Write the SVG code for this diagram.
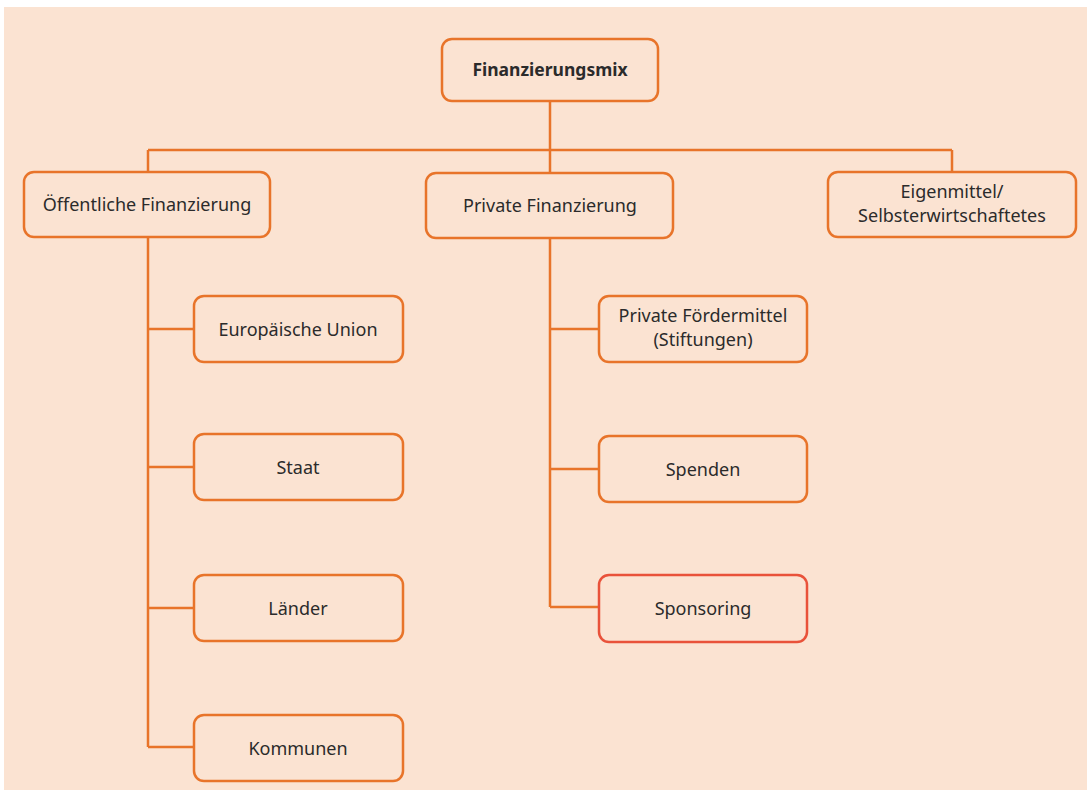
<svg xmlns="http://www.w3.org/2000/svg" width="1087" height="790" viewBox="0 0 1087 790">
<style>
.n{fill:#fbe3d2;stroke:#e8742a;stroke-width:2.5}
.r{fill:#fbe3d2;stroke:#e9523a;stroke-width:2.5}
.t{font-family:"Noto Sans","Open Sans",sans-serif;font-size:18px;fill:#2b2b2b;text-anchor:middle}
.b{font-weight:bold;font-size:17.5px}
.c{fill:none;stroke:#e8742a;stroke-width:2.5}
</style>
<rect x="4" y="7" width="1083" height="783" fill="#fbe3d2"/>
<g id="connectors">
<path class="c" d="M550 101V150M148 150H952M148 150V172M550 150V173M952 150V172"/>
<path class="c" d="M148 237V747M148 329H194M148 467H194M148 608H194M148 747H194"/>
<path class="c" d="M550 238V607M550 329H599M550 469H599M550 607H599"/>
</g>
<g id="finanzierungsmix"><rect class="n" x="442" y="39" width="216" height="62" rx="10"/><text class="t b" x="550" y="76">Finanzierungsmix</text></g>
<g id="oeffentlich"><rect class="n" x="24" y="172" width="246" height="65" rx="10"/><text class="t" x="147" y="211">Öffentliche Finanzierung</text></g>
<g id="privat"><rect class="n" x="426" y="173" width="247" height="65" rx="10"/><text class="t" x="550" y="212">Private Finanzierung</text></g>
<g id="eigenmittel"><rect class="n" x="828" y="172" width="248" height="65" rx="10"/><text class="t" x="952" y="198">Eigenmittel/</text><text class="t" x="952" y="222">Selbsterwirtschaftetes</text></g>
<g id="eu"><rect class="n" x="194" y="296" width="209" height="66" rx="10"/><text class="t" x="298" y="335.5">Europäische Union</text></g>
<g id="staat"><rect class="n" x="194" y="434" width="209" height="66" rx="10"/><text class="t" x="298" y="473.5">Staat</text></g>
<g id="laender"><rect class="n" x="194" y="575" width="209" height="66" rx="10"/><text class="t" x="298" y="614.5">Länder</text></g>
<g id="kommunen"><rect class="n" x="194" y="715" width="209" height="66" rx="10"/><text class="t" x="298" y="754.5">Kommunen</text></g>
<g id="foerdermittel"><rect class="n" x="599" y="296" width="208" height="66" rx="10"/><text class="t" x="703" y="322">Private Fördermittel</text><text class="t" x="703" y="346">(Stiftungen)</text></g>
<g id="spenden"><rect class="n" x="599" y="436" width="208" height="66" rx="10"/><text class="t" x="703" y="475.5">Spenden</text></g>
<g id="sponsoring"><rect class="r" x="599" y="575" width="208" height="67" rx="10"/><text class="t" x="703" y="615">Sponsoring</text></g>
</svg>
